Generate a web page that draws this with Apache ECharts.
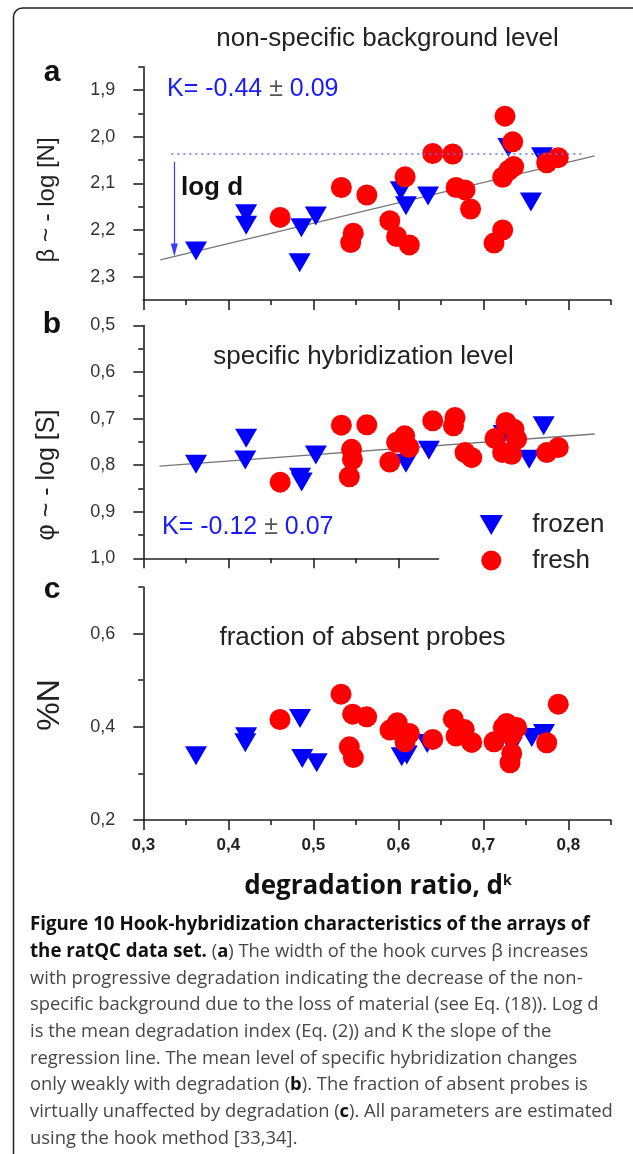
<!DOCTYPE html>
<html><head><meta charset="utf-8">
<script src="https://cdn.jsdelivr.net/npm/echarts@6/dist/echarts.min.js"></script>
<style>html,body{margin:0;padding:0;background:#fff}#c{width:633px;height:1154px}</style>
</head><body><div id="c"></div>
<script>
// ---------------- data ----------------
const xMin = 0.3, xMax = 0.85;
const xMajorTicks = [0.3, 0.4, 0.5, 0.6, 0.7, 0.8];
const xMinorTicks = [0.35, 0.45, 0.55, 0.65, 0.75, 0.85];
const xMajorTicksB = [0.3, 0.4, 0.5, 0.6];
const xMinorTicksB = [0.35, 0.45, 0.55];
const xAxisEndB = 0.648;

const yRangeA = [1.85, 2.35];
const yMajorA = [1.9, 2.0, 2.1, 2.2, 2.3];
const yMinorA = [1.85, 1.95, 2.05, 2.15, 2.25];
const yRangeB = [0.5, 1.0];
const yMajorB = [0.5, 0.6, 0.7, 0.8, 0.9, 1.0];
const yMinorB = [0.55, 0.65, 0.75, 0.85, 0.95];
const yRangeC = [0.2, 0.7];
const yMajorC = [0.2, 0.4, 0.6];
const yMinorC = [0.3, 0.5, 0.7];

// panel a: beta ~ -log[N]
const frozenA = [[0.362,2.245],[0.421,2.165],[0.421,2.19],[0.486,2.195],[0.484,2.27],[0.503,2.17],
  [0.603,2.116],[0.609,2.148],[0.635,2.127],[0.7295,2.023],[0.756,2.14],[0.769,2.043]];
const freshA = [[0.461,2.173],[0.533,2.109],[0.563,2.125],[0.547,2.207],[0.544,2.227],
  [0.608,2.086],[0.590,2.18],[0.598,2.214],[0.613,2.232],[0.6405,2.036],[0.664,2.037],
  [0.668,2.109],[0.6785,2.114],[0.685,2.155],[0.7255,1.956],[0.7346,2.011],[0.7357,2.064],
  [0.7301,2.072],[0.7228,2.087],[0.7228,2.2],[0.7126,2.228],[0.7746,2.056],[0.7882,2.045]];
const fitA = [[0.32,2.264],[0.831,2.041]];
const refLevelA = [[0.333,2.036],[0.818,2.036]];
const arrowA = [[0.3365,2.054],[0.3365,2.243]];

// panel b: phi ~ -log[S]
const frozenB = [[0.362,0.798],[0.421,0.742],[0.420,0.789],[0.4844,0.826],[0.4863,0.836],[0.503,0.778],
  [0.603,0.755],[0.609,0.796],[0.636,0.768],[0.724,0.734],[0.754,0.787],[0.771,0.7155]];
const freshB = [[0.461,0.8365],[0.533,0.714],[0.563,0.7133],[0.545,0.766],[0.546,0.7875],[0.5424,0.8248],
  [0.590,0.7932],[0.598,0.751],[0.6075,0.737],[0.6125,0.762],[0.6405,0.7047],[0.6667,0.6974],
  [0.6649,0.7155],[0.6785,0.773],[0.6864,0.7838],[0.7267,0.7082],[0.7361,0.7226],[0.7138,0.7428],
  [0.7393,0.744],[0.7228,0.773],[0.7334,0.7766],[0.7746,0.773],[0.7882,0.762]];
const fitB = [[0.319,0.802],[0.831,0.733]];

// panel c: %N
const frozenC = [[0.362,0.338],[0.421,0.3785],[0.420,0.366],[0.4844,0.418],[0.487,0.332],[0.504,0.323],
  [0.604,0.3357],[0.610,0.3393],[0.634,0.3643],[0.7337,0.358],[0.757,0.3772],[0.7714,0.3857]];
const freshC = [[0.4608,0.4157],[0.5326,0.47],[0.5463,0.4271],[0.5628,0.4214],[0.5424,0.357],[0.5471,0.334],
  [0.5902,0.3929],[0.5988,0.4085],[0.613,0.3857],[0.6079,0.3678],[0.6405,0.3729],[0.6647,0.4164],
  [0.6679,0.38],[0.6776,0.3943],[0.6864,0.3665],[0.7126,0.3678],[0.7235,0.3986],[0.7275,0.4071],
  [0.7393,0.3986],[0.7334,0.3821],[0.7334,0.3429],[0.7314,0.3228],[0.7746,0.3657],[0.7882,0.4486]];

const captionLines = [
  '{h|Figure 10 Hook-hybridization characteristics of the arrays of}',
  '{h|the ratQC data set.} ({b|a}) The width of the hook curves β increases',
  'with progressive degradation indicating the decrease of the non-',
  'specific background due to the loss of material (see Eq. (18)). Log d',
  'is the mean degradation index (Eq. (2)) and K the slope of the',
  'regression line. The mean level of specific hybridization changes',
  'only weakly with degradation ({b|b}). The fraction of absent probes is',
  'virtually unaffected by degradation ({b|c}). All parameters are estimated',
  'using the hook method [33,34].'
];

// ---------------- styling ----------------
const FONT = '"Liberation Sans", Arial, sans-serif';
const CAP = '"Open Sans", sans-serif';
const AXC = '#222';
const BLUE = '#0000ff';
const RED = '#ff0000';
const TRI = 'path://M0,0L22,0L11,19Z';
const fmt = v => (Math.round(v * 10) / 10).toFixed(1).replace('.', ',');

const grids = [
  {left: 143.3, top: 66.7, width: 467.5, height: 233.3},
  {left: 143.3, top: 325.5, width: 467.5, height: 232.8},
  {left: 143.3, top: 587, width: 467.5, height: 233}
].map(g => Object.assign(g, {containLabel: false, outerBoundsMode: 'none'}));

function xPair(grid, major, minor, showLine, labels) {
  const tickStyle = {color: AXC, width: 1.6};
  return [{
    gridIndex: grid, type: 'value', min: xMin, max: xMax, position: 'bottom',
    axisLine: {show: showLine, onZero: false, lineStyle: {color: AXC, width: 1.6}},
    axisTick: {show: true, customValues: major, length: 10, lineStyle: tickStyle},
    axisLabel: labels ? {show: true, customValues: labels, formatter: fmt, margin: 17,
      color: '#222', fontFamily: FONT, fontSize: 17, fontWeight: 'bold'} : {show: false},
    splitLine: {show: false}
  }, {
    gridIndex: grid, type: 'value', min: xMin, max: xMax, position: 'bottom',
    axisLine: {show: false, onZero: false},
    axisTick: {show: true, customValues: minor, length: 5, lineStyle: tickStyle},
    axisLabel: {show: false}, splitLine: {show: false}
  }];
}
function yPair(grid, range, major, minor, inverse, labels) {
  const tickStyle = {color: AXC, width: 1.6};
  return [{
    gridIndex: grid, type: 'value', min: range[0], max: range[1], inverse: inverse, position: 'left',
    axisLine: {show: true, onZero: false, lineStyle: {color: AXC, width: 1.6}},
    axisTick: {show: true, customValues: major, length: 10, lineStyle: tickStyle},
    axisLabel: {show: true, customValues: labels, formatter: fmt, margin: 28,
      color: '#333', fontFamily: FONT, fontSize: 18},
    splitLine: {show: false}
  }, {
    gridIndex: grid, type: 'value', min: range[0], max: range[1], inverse: inverse, position: 'left',
    axisLine: {show: false, onZero: false},
    axisTick: {show: true, customValues: minor, length: 5, lineStyle: tickStyle},
    axisLabel: {show: false}, splitLine: {show: false}
  }];
}

const xAxis = [].concat(
  xPair(0, xMajorTicks, xMinorTicks, true, null),
  xPair(1, xMajorTicksB, xMinorTicksB, false, null),
  xPair(2, xMajorTicks, xMinorTicks, true, xMajorTicks)
);
const yAxis = [].concat(
  yPair(0, yRangeA, yMajorA, yMinorA, true, yMajorA),
  yPair(1, yRangeB, yMajorB, yMinorB, true, yMajorB),
  yPair(2, yRangeC, yMajorC, yMinorC, false, yMajorC)
);

function fitSeries(ax, data, extraMark) {
  const s = {
    type: 'line', xAxisIndex: ax, yAxisIndex: ax, data: data, symbol: 'none', silent: true,
    lineStyle: {color: '#777', width: 1.3}, z: 1
  };
  if (extraMark) s.markLine = extraMark;
  return s;
}
function frozen(ax, data) {
  return {type: 'scatter', name: 'frozen', xAxisIndex: ax, yAxisIndex: ax, data: data,
    symbol: TRI, symbolSize: [22, 19], itemStyle: {color: BLUE, opacity: 1}, z: 2, silent: true};
}
function fresh(ax, data) {
  return {type: 'scatter', name: 'fresh', xAxisIndex: ax, yAxisIndex: ax, data: data,
    symbol: 'circle', symbolSize: 21, itemStyle: {color: RED, opacity: 1}, z: 3, silent: true};
}

const markA = {
  silent: true, animation: false, label: {show: false},
  symbol: ['none', 'none'],
  data: [
    [{coord: refLevelA[0], lineStyle: {type: [2, 4], color: '#6b6bff', width: 1.6}}, {coord: refLevelA[1]}],
    [{coord: arrowA[0], symbol: 'none', lineStyle: {type: 'solid', color: '#3b3bff', width: 1.2}},
     {coord: arrowA[1], symbol: 'triangle', symbolSize: [7, 13], symbolRotate: 180}]
  ]
};
const markB = {
  silent: true, animation: false, label: {show: false}, symbol: ['none', 'none'],
  data: [[{coord: [xMin, yRangeB[1]], lineStyle: {type: 'solid', color: AXC, width: 1.6}},
          {coord: [xAxisEndB, yRangeB[1]]}]]
};

const series = [
  fitSeries(0, fitA, markA), frozen(0, frozenA), fresh(0, freshA),
  fitSeries(2, fitB, markB), frozen(2, frozenB), fresh(2, freshB),
  frozen(4, frozenC), fresh(4, freshC)
];

function txt(x, y, text, opts) {
  return Object.assign({type: 'text', x: x, y: y, silent: true,
    style: Object.assign({text: text, fill: '#222', fontFamily: FONT, fontSize: 26,
      align: 'center', verticalAlign: 'middle'}, opts && opts.style || {})},
    opts && opts.el || {});
}

const graphic = [
  {type: 'rect', silent: true, shape: {x: 13.5, y: 8, width: 700, height: 1400, r: 9},
   style: {fill: 'none', stroke: '#222', lineWidth: 1.5}},
  txt(387.5, 39, 'non-specific background level'),
  txt(363.5, 357, 'specific hybridization level'),
  txt(362.5, 638, 'fraction of absent probes'),
  txt(52, 73, 'a', {style: {fontWeight: 'bold', fontSize: 30, fill: '#111'}}),
  txt(52, 325, 'b', {style: {fontWeight: 'bold', fontSize: 30, fill: '#111'}}),
  txt(52, 590, 'c', {style: {fontWeight: 'bold', fontSize: 30, fill: '#111'}}),
  txt(167, 89, '{k|K= -0.44 }{p|±}{k| 0.09}', {style: {align: 'left', fill: BLUE, fontSize: 25,
    rich: {k: {fill: '#1a1aff', fontSize: 25, fontFamily: FONT}, p: {fill: '#555', fontSize: 25, fontFamily: FONT}}}}),
  txt(162, 527, '{k|K= -0.12 }{p|±}{k| 0.07}', {style: {align: 'left', fill: BLUE, fontSize: 25,
    rich: {k: {fill: '#1a1aff', fontSize: 25, fontFamily: FONT}, p: {fill: '#555', fontSize: 25, fontFamily: FONT}}}}),
  txt(181, 188, 'log d', {style: {align: 'left', fontWeight: 'bold', fontSize: 26, fill: '#111'}}),
  txt(47, 200, 'β ~ - log [N]', {style: {fontSize: 24, fill: '#222'}, el: {rotation: Math.PI / 2}}),
  txt(47, 475, 'φ ~ - log [S]', {style: {fontSize: 25, fill: '#222'}, el: {rotation: Math.PI / 2}}),
  txt(50, 705, '%N', {style: {fontSize: 32, fill: '#222'}, el: {rotation: Math.PI / 2}}),
  txt(378, 887, '{n|degradation ratio, d}{s|k}', {style: {fontFamily: CAP,
    rich: {n: {fontFamily: CAP, fontSize: 26, fontWeight: 'bold', fill: '#111'},
           s: {fontFamily: CAP, fontSize: 14, fontWeight: 'bold', fill: '#111', verticalAlign: 'top'}}}})
];
captionLines.forEach((line, i) => {
  graphic.push(txt(30, 925 + i * 26.67, line, {style: {align: 'left', fontFamily: CAP, fontSize: 18.4,
    fill: '#474747', rich: {
      h: {fontFamily: CAP, fontSize: 18.7, fontWeight: 'bold', fill: '#111'},
      b: {fontFamily: CAP, fontSize: 18.4, fontWeight: 'bold', fill: '#111'}
    }}}));
});

const chart = echarts.init(document.getElementById('c'), null, {renderer: 'canvas'});
chart.setOption({
  animation: false,
  backgroundColor: '#fff',
  grid: grids,
  xAxis: xAxis,
  yAxis: yAxis,
  legend: {orient: 'vertical', left: 474.7, top: 507, itemWidth: 72, itemHeight: 20, itemGap: 9.5,
    selectedMode: false, symbolKeepAspect: true,
    textStyle: {fontFamily: FONT, fontSize: 26, color: '#222', lineHeight: 20},
    data: [{name: 'frozen', icon: TRI, itemStyle: {color: BLUE}}, {name: 'fresh', icon: 'circle', itemStyle: {color: RED}}]},
  series: series,
  graphic: graphic
});
</script></body></html>
